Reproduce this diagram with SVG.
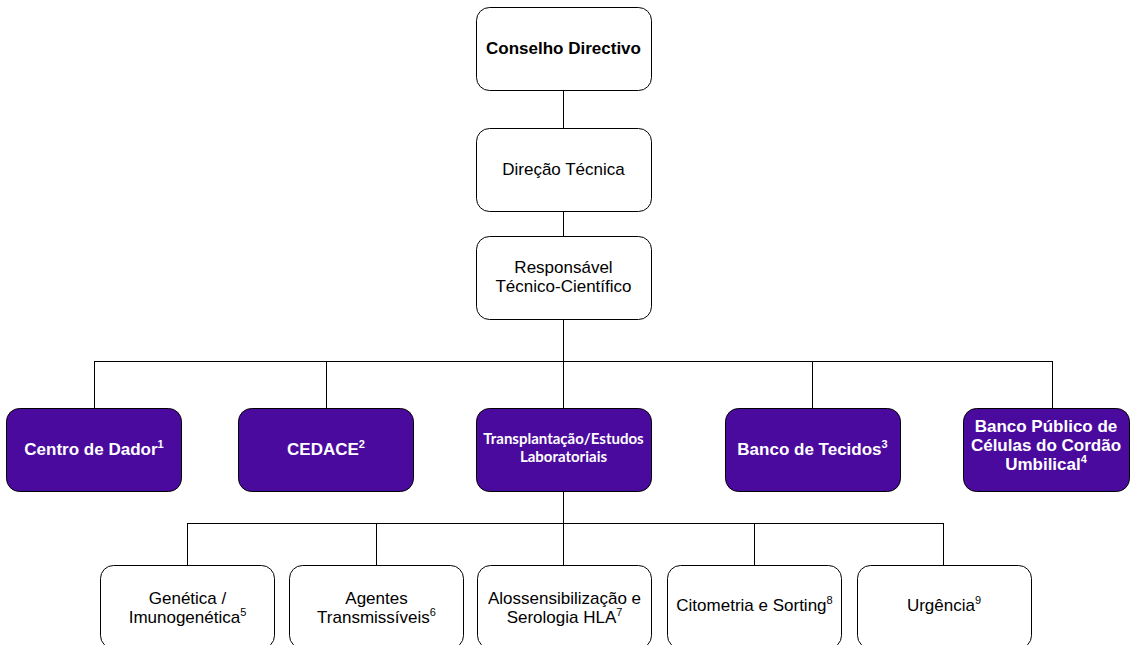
<svg xmlns="http://www.w3.org/2000/svg" width="1131" height="645" viewBox="0 0 1131 645">
  <style>
    .box { fill: #ffffff; stroke: #000000; stroke-width: 1; }
    .unit { fill: #4B0A9E; stroke: #000000; stroke-width: 1; }
    .t { font-family: "Liberation Sans", Arial, sans-serif; font-size: 17px; fill: #000000; text-anchor: middle; }
    .tb { font-family: "Liberation Sans", Arial, sans-serif; font-size: 17px; font-weight: bold; fill: #ffffff; text-anchor: middle; }
    .tc { font-family: Lato, "Open Sans", sans-serif; font-size: 15px; font-weight: bold; fill: #ffffff; text-anchor: middle; }
    .sup { font-size: 11px; }
    .conn { stroke: #000000; stroke-width: 1; fill: none; }
  </style>

  <!-- connectors -->
  <g id="connectors" class="conn">
    <path d="M563.5 90 V128 M563.5 211 V236 M563.5 319 V408"/>
    <path d="M94.5 361.5 H1052.5"/>
    <path d="M94.5 361 V408 M326.5 361 V408 M812.5 361 V408 M1052.5 361 V408"/>
    <path d="M563.5 491 V565"/>
    <path d="M187.5 523.5 H943.5"/>
    <path d="M187.5 523 V565 M376.5 523 V565 M754.5 523 V565 M943.5 523 V565"/>
  </g>

  <!-- top of the hierarchy -->
  <g id="conselho">
    <rect class="box" x="476.5" y="7.5" width="175" height="83" rx="13"/>
    <text class="t" x="563.5" y="54" font-weight="bold">Conselho Directivo</text>
  </g>
  <g id="direcao">
    <rect class="box" x="476.5" y="128.5" width="175" height="83" rx="13"/>
    <text class="t" x="563.5" y="175">Direção Técnica</text>
  </g>
  <g id="responsavel">
    <rect class="box" x="476.5" y="236.5" width="175" height="83" rx="13"/>
    <text class="t" x="563.5" y="273">Responsável</text>
    <text class="t" x="563.5" y="292">Técnico-Científico</text>
  </g>

  <!-- units -->
  <g id="centro-dador">
    <rect class="unit" x="6.5" y="408.5" width="175" height="83" rx="13"/>
    <text class="tb" x="94" y="455">Centro de Dador<tspan class="sup" dy="-7">1</tspan></text>
  </g>
  <g id="cedace">
    <rect class="unit" x="238.5" y="408.5" width="175" height="83" rx="13"/>
    <text class="tb" x="326" y="455">CEDACE<tspan class="sup" dy="-7">2</tspan></text>
  </g>
  <g id="transplantacao">
    <rect class="unit" x="476.5" y="408.5" width="175" height="83" rx="13"/>
    <text class="tc" x="563.5" y="444">Transplantação/Estudos</text>
    <text class="tc" x="563.5" y="462">Laboratoriais</text>
  </g>
  <g id="banco-tecidos">
    <rect class="unit" x="725.5" y="408.5" width="175" height="83" rx="13"/>
    <text class="tb" x="812.5" y="455">Banco de Tecidos<tspan class="sup" dy="-7">3</tspan></text>
  </g>
  <g id="banco-publico">
    <rect class="unit" x="963.5" y="408.5" width="166" height="83" rx="13"/>
    <text class="tb" x="1046" y="432">Banco Público de</text>
    <text class="tb" x="1046" y="451">Células do Cordão</text>
    <text class="tb" x="1046" y="470">Umbilical<tspan class="sup" dy="-7">4</tspan></text>
  </g>

  <!-- laboratory sections -->
  <g id="genetica">
    <rect class="box" x="100.5" y="565.5" width="174" height="83" rx="13"/>
    <text class="t" x="187.5" y="604">Genética /</text>
    <text class="t" x="187.5" y="623">Imunogenética<tspan class="sup" dy="-7">5</tspan></text>
  </g>
  <g id="agentes">
    <rect class="box" x="289.5" y="565.5" width="174" height="83" rx="13"/>
    <text class="t" x="376.5" y="604">Agentes</text>
    <text class="t" x="376.5" y="623">Transmissíveis<tspan class="sup" dy="-7">6</tspan></text>
  </g>
  <g id="alossensibilizacao">
    <rect class="box" x="477.5" y="565.5" width="174" height="83" rx="13"/>
    <text class="t" x="564.5" y="604">Alossensibilização e</text>
    <text class="t" x="564.5" y="623">Serologia HLA<tspan class="sup" dy="-7">7</tspan></text>
  </g>
  <g id="citometria">
    <rect class="box" x="667.5" y="565.5" width="174" height="83" rx="13"/>
    <text class="t" x="754.5" y="611">Citometria e Sorting<tspan class="sup" dy="-7">8</tspan></text>
  </g>
  <g id="urgencia">
    <rect class="box" x="857.5" y="565.5" width="174" height="83" rx="13"/>
    <text class="t" x="944" y="611">Urgência<tspan class="sup" dy="-7">9</tspan></text>
  </g>
</svg>
